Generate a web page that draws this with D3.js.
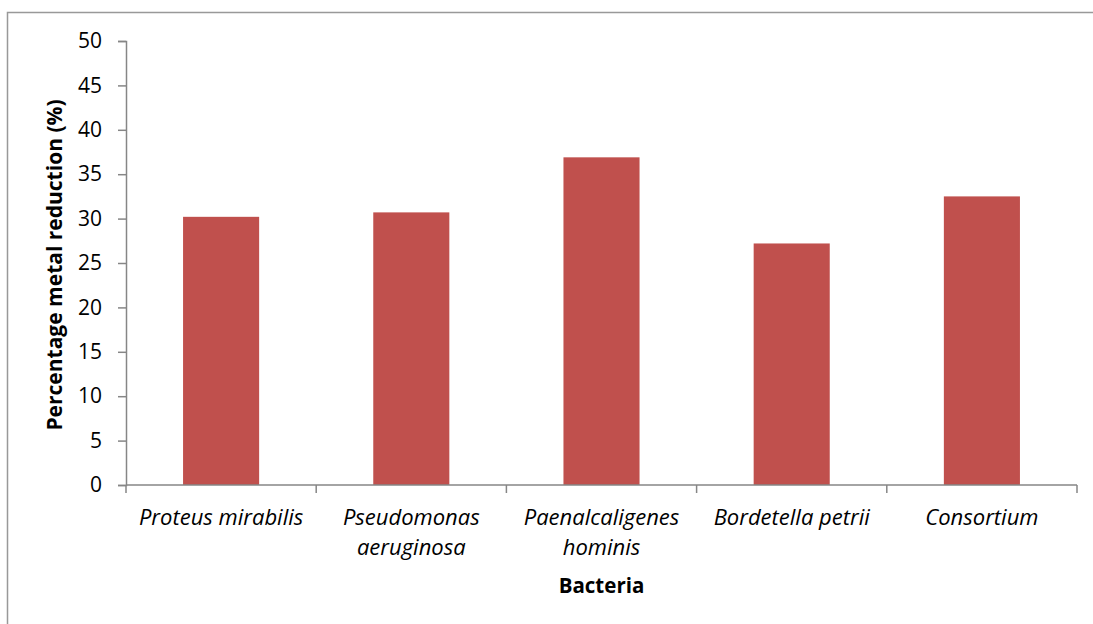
<!DOCTYPE html>
<html><head><meta charset="utf-8">
<script src="https://cdn.jsdelivr.net/npm/d3@7"></script>
<style>body{margin:0;background:#fff;} svg{display:block;}</style>
</head><body><svg id="c" width="1093" height="624"></svg>
<script>
const categories = [["Proteus mirabilis"], ["Pseudomonas", "aeruginosa"], ["Paenalcaligenes", "hominis"], ["Bordetella petrii"], ["Consortium"]];
const values = [30.2, 30.7, 36.9, 27.2, 32.5];
const yTicks = [0, 5, 10, 15, 20, 25, 30, 35, 40, 45, 50];
const yTitle = "Percentage metal reduction (%)";
const xTitle = "Bacteria";

const svg = d3.select("#c");
const font = "'Open Sans', sans-serif";
const m = {l:126, r:1077, t:41, b:485};

svg.append("path").attr("d", "M7.5,1000 L7.5,12.5 L1200,12.5")
  .attr("fill","none").attr("stroke","#999").attr("stroke-width",1.5);

const keys = categories.map((c,i)=>i);
const x = d3.scaleBand().domain(keys).range([m.l, m.r]).paddingInner(0.6).paddingOuter(0.3);
const y = d3.scaleLinear().domain([0,50]).range([m.b, m.t]);

svg.selectAll("rect.bar").data(values).enter().append("rect")
  .attr("class","bar")
  .attr("x",(d,i)=>x(i)).attr("width",x.bandwidth())
  .attr("y",d=>y(d)).attr("height",d=>y(0)-y(d))
  .attr("fill","#c0504d");

const yAxis = svg.append("g").attr("transform",`translate(${m.l},0)`)
  .call(d3.axisLeft(y).tickValues(yTicks).tickSize(8).tickPadding(16));
yAxis.select(".domain").attr("stroke","#868686").attr("stroke-width",1.5);
yAxis.selectAll(".tick line").attr("stroke","#868686").attr("stroke-width",1.5);
yAxis.selectAll(".tick text").attr("font-family",font).attr("font-size",21).attr("fill","#000");

const xg = svg.append("g");
xg.append("line").attr("x1",m.l).attr("x2",m.r).attr("y1",y(0)).attr("y2",y(0))
  .attr("stroke","#868686").attr("stroke-width",1.5);
const bounds = d3.range(keys.length+1).map(i => m.l + (m.r-m.l)*i/keys.length);
xg.selectAll("line.t").data(bounds).enter().append("line").attr("class","t")
  .attr("x1",d=>d).attr("x2",d=>d).attr("y1",y(0)).attr("y2",y(0)+8)
  .attr("stroke","#868686").attr("stroke-width",1.5);

const lab = svg.selectAll("text.cat").data(categories).enter().append("text")
  .attr("class","cat").attr("font-family",font).attr("font-size",22)
  .attr("font-style","italic").attr("text-anchor","middle");
lab.each(function(d,i){
  const t = d3.select(this);
  d.forEach((line,j)=>{
    t.append("tspan").attr("x", x(i)+x.bandwidth()/2).attr("y", 525 + j*30).text(line);
  });
});

svg.append("text").attr("x",(m.l+m.r)/2).attr("y",593).attr("text-anchor","middle")
  .attr("font-family",font).attr("font-size",20.5).attr("font-weight","bold").text(xTitle);
svg.append("text").attr("transform",`translate(62,265) rotate(-90)`).attr("text-anchor","middle")
  .attr("font-family",font).attr("font-size",21).attr("font-weight","bold").text(yTitle);
</script></body></html>
